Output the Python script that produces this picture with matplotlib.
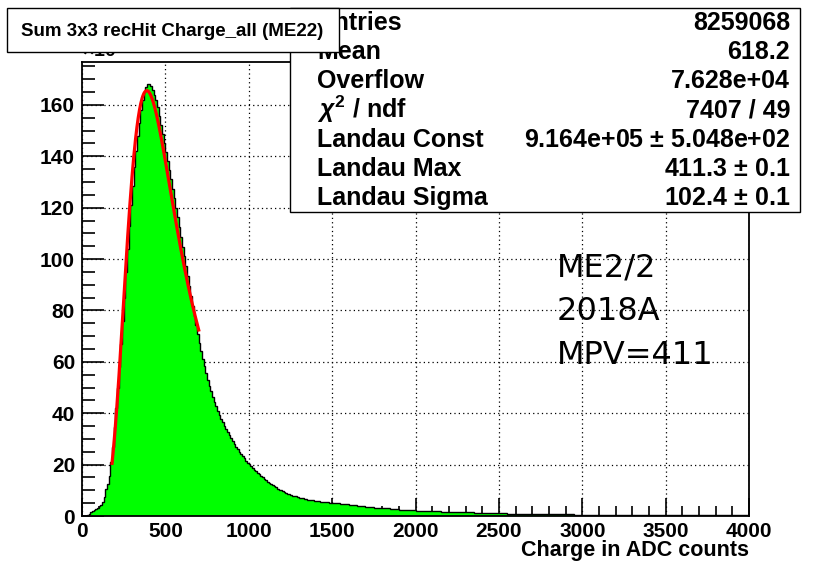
import numpy as np
import matplotlib.pyplot as plt
from matplotlib.patches import Rectangle
from matplotlib.ticker import MultipleLocator

# Sum 3x3 recHit charge, ME2/2, in units of 10^3 entries per 10 ADC
# 10 ADC bins from 0 to 1500
fine_counts = [
    0.0, 0.0, 0.1, 0.4, 0.9, 1.4, 1.9, 2.4, 2.8, 3.2,
    3.7, 4.4, 5.5, 7.5, 10.5, 12.5, 15.5, 21.0, 27.0, 34.5,
    42.0, 50.0, 58.0, 67.0, 76.0, 85.0, 95.0, 104.0, 113.0, 121.0,
    128.5, 136.0, 142.0, 148.0, 153.0, 158.0, 162.0, 165.0, 167.0, 168.2,
    168.0, 167.2, 165.8, 164.0, 161.8, 159.0, 155.6, 152.1, 148.6, 145.1,
    141.6, 138.1, 134.6, 131.0, 127.4, 123.7, 120.0, 116.2, 112.4, 108.6,
    104.8, 101.0, 97.2, 93.4, 89.6, 85.8, 81.8, 78.0, 74.2, 70.7,
    67.4, 64.2, 61.2, 58.3, 55.6, 53.1, 50.7, 48.5, 46.4, 44.5,
    42.7, 41.0, 39.4, 37.9, 36.5, 35.2, 33.9, 32.6, 31.4, 30.2,
    29.1, 28.0, 27.0, 26.0, 25.0, 24.1, 23.2, 22.4, 21.6, 20.8,
    20.1, 19.4, 18.7, 18.0, 17.4, 16.8, 16.2, 15.6, 15.0, 14.4,
    13.9, 13.4, 12.9, 12.4, 12.0, 11.5, 11.1, 10.7, 10.3, 10.0,
    9.6, 9.3, 9.0, 8.7, 8.4, 8.1, 7.9, 7.75, 7.6, 7.4,
    7.2, 7.0, 6.85, 6.7, 6.55, 6.4, 6.3, 6.2, 6.05, 5.95,
    5.85, 5.75, 5.65, 5.55, 5.5, 5.4, 5.35, 5.3, 5.2, 5.15,
]
# 50 ADC bins from 1500 to 4000 (same per-10-ADC scale)
tail_counts = [
    4.9, 4.5, 4.1, 3.8, 3.5, 3.2, 2.95, 2.7, 2.5, 2.3,
    2.1, 1.95, 1.8, 1.7, 1.6, 1.5, 1.4, 1.3, 1.2, 1.1,
    1.0, 0.95, 0.9, 0.85, 0.8, 0.75, 0.7, 0.65, 0.6, 0.55,
    0.52, 0.5, 0.47, 0.45, 0.42, 0.4, 0.38, 0.36, 0.34, 0.32,
    0.3, 0.29, 0.28, 0.27, 0.26, 0.25, 0.24, 0.23, 0.22, 0.21,
]

# Landau fit result
landau_const = 9.164e5
landau_mpv = 411.3
landau_sigma = 102.4
fit_range = (180, 700)

stat_labels = ["Entries", "Mean", "Overflow", r"$\chi^{2}$ / ndf",
               "Landau Const", "Landau Max", "Landau Sigma"]
stat_values = ["8259068", "618.2", "7.628e+04", "7407 / 49",
               r"9.164e+05 $\pm$ 5.048e+02", r"411.3 $\pm$ 0.1", r"102.4 $\pm$ 0.1"]

title = "Sum 3x3 recHit Charge_all (ME22)"
notes = ["ME2/2", "2018A", "MPV=411"]

W, H = 814, 563
FONT = "Liberation Sans"
plt.rcParams["mathtext.fontset"] = "custom"
plt.rcParams["mathtext.rm"] = "Liberation Sans:bold"
plt.rcParams["mathtext.it"] = "Liberation Sans:bold:italic"


def fx(px):
    return px / W


def fy(py):
    return 1 - py / H


def landau_pdf(lam):
    # phi(l) = 1/pi * int_0^inf exp(-t ln t - l t) sin(pi t) dt
    t = np.linspace(1e-12, 40, 40001)
    out = []
    for l in lam:
        f = np.exp(-t * np.log(t) - l * t) * np.sin(np.pi * t)
        out.append(np.trapezoid(f, t) / np.pi)
    return np.array(out)


edges = np.concatenate([np.arange(0, 1501, 10), np.arange(1550, 4001, 50)])
counts = np.array(fine_counts + tail_counts)

fig = plt.figure(figsize=(W / 100, H / 100), dpi=100)
ax = fig.add_axes([fx(82), fy(516), fx(749) - fx(82), fy(62) - fy(516)])

ax.stairs(counts, edges, fill=True, color="#00ff00", zorder=2)
ax.stairs(counts, edges, color="black", linewidth=1.0, zorder=3)

xf = np.linspace(fit_range[0], fit_range[1], 200)
yf = landau_const * landau_pdf((xf - landau_mpv) / landau_sigma) / 1000.0
ax.plot(xf, yf, color="red", linewidth=2.3, zorder=4)

ax.set_xlim(0, 4000)
ax.set_ylim(0, 176.7)
ax.xaxis.set_major_locator(MultipleLocator(500))
ax.xaxis.set_minor_locator(MultipleLocator(100))
ax.yaxis.set_major_locator(MultipleLocator(20))
ax.yaxis.set_minor_locator(MultipleLocator(5))
ax.tick_params(axis="both", which="both", direction="in", top=False, right=False,
               width=1.2, color="black")
ax.tick_params(axis="x", which="major", length=13, pad=4)
ax.tick_params(axis="x", which="minor", length=7)
ax.tick_params(axis="y", which="major", length=16, pad=5)
ax.tick_params(axis="y", which="minor", length=9)
for lab in ax.get_xticklabels() + ax.get_yticklabels():
    lab.set_fontfamily(FONT)
    lab.set_fontweight("bold")
    lab.set_fontsize(15)
for sp in ax.spines.values():
    sp.set_linewidth(1.3)

ax.set_axisbelow(True)
ax.grid(True, which="major", linestyle=(0, (1, 2.5)), color="black", linewidth=0.9)

ax.text(0.0, 1.005, r"$\times10^{3}$", transform=ax.transAxes, ha="left", va="bottom",
        fontsize=14, fontweight="bold", family=FONT)

fig.text(fx(749), fy(556), "Charge in ADC counts", ha="right", va="baseline",
         fontsize=15.5, fontweight="bold", family=FONT)

for i, note in enumerate(notes):
    ax.text(fx(557), fy(277 + 43.5 * i), note, transform=fig.transFigure,
            fontsize=23, family="DejaVu Sans", ha="left", va="baseline", zorder=5)

# stats box, then the title box on top of it
fig.add_artist(Rectangle((fx(290), fy(212)), fx(800) - fx(290), fy(8) - fy(212),
                         transform=fig.transFigure, facecolor="white",
                         edgecolor="black", linewidth=1.0, zorder=10))
for i, (lab, val) in enumerate(zip(stat_labels, stat_values)):
    yb = fy(30 + 29.2 * i)
    fig.text(fx(317), yb, lab, ha="left", va="baseline", fontsize=18,
             fontweight="bold", family=FONT, zorder=11)
    fig.text(fx(790), yb, val, ha="right", va="baseline", fontsize=18,
             fontweight="bold", family=FONT, zorder=11)

fig.add_artist(Rectangle((fx(7), fy(52)), fx(339) - fx(7), fy(8) - fy(52),
                         transform=fig.transFigure, facecolor="white",
                         edgecolor="black", linewidth=1.0, zorder=12))
fig.text(fx(172), fy(36), title, ha="center", va="baseline", fontsize=13.5,
         fontweight="bold", family=FONT, zorder=13)

fig.savefig("out.png", dpi=100)
